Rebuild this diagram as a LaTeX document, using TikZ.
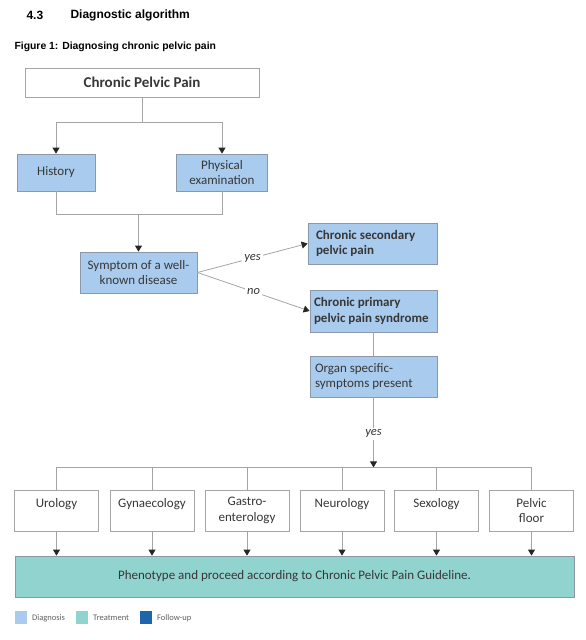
\documentclass[tikz,border=0pt]{standalone}
\usepackage{fontspec}
\setmainfont{Carlito}
\newfontfamily\headfont{Liberation Sans}
\usepackage{tikz}
\usetikzlibrary{positioning}
\usetikzlibrary{arrows.meta}
\usetikzlibrary{calc}
\definecolor{diagblue}{RGB}{169,203,238}
\definecolor{treatteal}{RGB}{145,211,207}
\definecolor{followblue}{RGB}{31,101,172}
\definecolor{boxline}{RGB}{140,152,168}
\definecolor{linkgray}{RGB}{165,165,165}
\definecolor{textgray}{RGB}{55,55,55}

\begin{document}
\begin{tikzpicture}[x=1pt,y=-1pt,
        box/.style={draw=boxline,line width=0.8pt,text=textgray,align=center,
                    font=\fontsize{13}{15.5}\selectfont,inner sep=0pt},
        diag/.style={box,fill=diagblue},
        plain/.style={box,draw=linkgray,fill=white}]
        \useasboundingbox (0,0) rectangle (586,640);
        % heading and caption
        \node[anchor=west,font=\headfont\bfseries\fontsize{12}{14}\selectfont] (num) at (23,15) {4.3};
        \node[anchor=west,font=\headfont\bfseries\fontsize{12}{14}\selectfont] (head) at (67,15) {Diagnostic algorithm};
        \node[anchor=west,font=\headfont\bfseries\fontsize{10.4}{12}\selectfont] (cap) at (11,47) {Figure 1: Diagnosing chronic pelvic pain};
        % diagnosis boxes
        \node[plain,minimum width=234,minimum height=29,font=\bfseries\fontsize{15}{18}\selectfont] (cpp) at (142,82.5) {Chronic Pelvic Pain};
        \node[diag,minimum width=78,minimum height=37] (hist) at (56,172.5) {History};
        \node[diag,minimum width=91,minimum height=37] (phys) at (222,172.5) {Physical\\examination};
        \node[diag,minimum width=117,minimum height=41] (sym) at (138.5,272.5) {Symptom of a well-\\known disease};
        \node[diag,minimum width=129,minimum height=41,align=flush left,text width=113,
              inner xsep=8pt,font=\bfseries\fontsize{13}{15.5}\selectfont] (sec) at (372.5,243.5) {Chronic secondary\\pelvic pain};
        \node[diag,minimum width=127,minimum height=42,align=flush left,text width=119,
              inner xsep=4pt,font=\bfseries\fontsize{13}{15.5}\selectfont] (prim) at (373.5,311) {Chronic primary\\pelvic pain syndrome};
        \node[diag,minimum width=127,minimum height=41,align=flush left,text width=117,
              inner xsep=5pt] (organ) at (373.5,376.5) {Organ specific-\\symptoms present};
        % specialties
        \begin{scope}[every node/.style={plain,minimum width=84,minimum height=41}]
            \node (uro) at (56.5,510.5) {Urology\\\mbox{}};
            \node (gyn) at (152,510.5) {Gynaecology\\\mbox{}};
            \node (gas) at (247,510.5) {Gastro-\\enterology};
            \node (neu) at (342,510.5) {Neurology\\\mbox{}};
            \node (sex) at (436.5,510.5) {Sexology\\\mbox{}};
            \node (pel) at (531.5,510.5) {Pelvic\\floor};
        \end{scope}
        \node[box,fill=treatteal,minimum width=559,minimum height=41] (pheno) at (294.5,576.5) {Phenotype and proceed according to Chronic Pelvic Pain Guideline.};
        % legend
        \begin{scope}[every node/.style={minimum width=12,minimum height=13,inner sep=0pt}]
            \node[fill=diagblue] (ldiag) at (21,617.5) {};
            \node[fill=treatteal] (ltreat) at (81.5,617.5) {};
            \node[fill=followblue] (lfollow) at (146,617.5) {};
        \end{scope}
        \begin{scope}[every node/.style={anchor=base west,text=textgray!80,inner sep=0pt,
                      font=\fontsize{8.5}{10}\selectfont}]
            \node (tdiag) at (32,620.5) {Diagnosis};
            \node (ttreat) at (93,620.5) {Treatment};
            \node (tfollow) at (157,620.5) {Follow-up};
        \end{scope}
        % connectors
        \begin{scope}[>={Triangle[length=6pt,width=7pt,color=black!85]},
                      every path/.style={draw=linkgray,line width=0.8pt},
                      lab/.style={fill=white,text=textgray,inner sep=2pt,
                                  font=\itshape\fontsize{12.5}{14}\selectfont}]
             \coordinate (top) at ($(cpp.south)+(0,25)$);
             \coordinate (join) at ($(sym.north)+(0,-37)$);
             \coordinate (bus) at ($(organ.south)+(0,70)$);
             \path (cpp.south) -- (top);
             \path [->] (top) -| (hist);
             \path [->] (top) -| (phys);
             \path (hist.south) |- (join);
             \path (phys.south) |- (join);
             \path [->] (join) -- (sym);
             \path [->] (sym.east) -- node[lab] {yes} (sec.west);
             \path [->] (sym.east) -- node[lab] {no} (prim.west);
             \path (prim) -- (organ);
             \path [->] (organ) -- node[lab,pos=0.52] {yes} (bus);
             \path (uro.north) -- (uro.north |- bus) -- (pel.north |- bus) -- (pel.north);
             \path (gyn) -- (gyn.north |- bus);
             \path (gas) -- (gas.north |- bus);
             \path (neu) -- (neu.north |- bus);
             \path (sex) -- (sex.north |- bus);
             \path [->] (uro) -- (uro.south |- pheno.north);
             \path [->] (gyn) -- (gyn.south |- pheno.north);
             \path [->] (gas) -- (gas.south |- pheno.north);
             \path [->] (neu) -- (neu.south |- pheno.north);
             \path [->] (sex) -- (sex.south |- pheno.north);
             \path [->] (pel) -- (pel.south |- pheno.north);
        \end{scope}
\end{tikzpicture}
\end{document}
